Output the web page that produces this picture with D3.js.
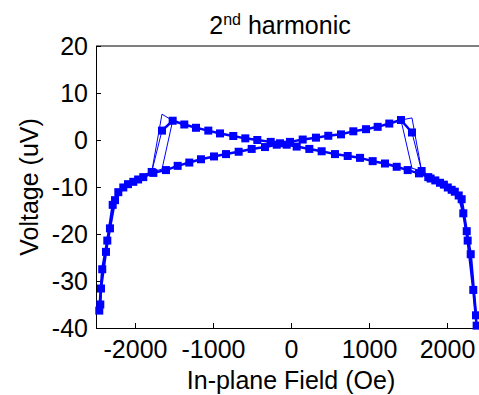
<!DOCTYPE html>
<html>
<head>
<meta charset="utf-8">
<script src="https://cdn.jsdelivr.net/npm/d3@7"></script>
<style>
  body { margin: 0; background: #fff; }
  text { font-family: Arial, "Liberation Sans", sans-serif; fill: #000; }
</style>
</head>
<body>
<div id="vis"></div>
<script>
// ---------------------------------- DATOS ---------------------------------------------------------
// bajada de campo (+ -> -): cola izquierda y rama principal (joroba izquierda + arco derecho)
const downTailField = [-2458, -2420, -2355, -2286, -2214, -2090, -1960, -1786];
const downTailVolt = [-36.3, -27.5, -21.4, -13.8, -11.1, -9.4, -8.4, -6.8];
const downMainField = [-1654, -1517, -1368, -1218, -1060, -910, -740, -586, -432, -260, -141, -55, 73, 235,
    393, 564, 727, 885, 1047, 1205, 1355, 1496, 1641, 1760, 1850, 1960, 2060, 2150, 2209, 2265, 2337, 2380];
const downMainVolt = [2.0, 4.1, 3.3, 2.6, 2.0, 1.4, 0.85, 0.35, 0.0, -0.4, -0.7, -1.0, -1.4, -1.9,
    -2.4, -3.0, -3.4, -3.8, -4.5, -5.0, -5.7, -6.4, -7.1, -7.9, -8.6, -9.5, -10.6, -11.8, -15.6, -21.4, -31.9, -39.5];

// subida de campo (- -> +): rama principal (arco izquierdo + joroba derecha) y cola derecha
const upMainField = [-2445, -2436, -2372, -2321, -2256, -2150, -2022, -1894, -1765, -1603, -1453, -1304, -1154,
    -987, -833, -671, -504, -333, -183, -13, 150, 320, 478, 641, 799, 962, 1111, 1260, 1410, 1551];
const upMainVolt = [-35.0, -31.6, -23.8, -18.8, -12.8, -10.1, -8.9, -7.9, -7.0, -6.4, -5.5, -4.8, -4.1,
    -3.5, -3.0, -2.5, -1.9, -1.5, -1.0, -0.4, 0.1, 0.5, 0.9, 1.2, 1.85, 2.3, 2.8, 3.5, 4.25, 1.6];
const upTailField = [1675, 1790, 1910, 2010, 2100, 2188, 2253, 2304, 2372];
const upTailVolt = [-6.6, -8.2, -9.1, -10.1, -11.0, -12.6, -19.4, -24.3, -37.3];

// barridos individuales en los saltos (líneas finas)
const jumpLeftField = [-1786, -1654, -1517];
const jumpLeftSweeps = [[-6.8, 5.5, 4.1], [-6.8, 2.0, 4.1], [-6.8, -6.2, 4.1]];
const jumpRightField = [1410, 1551, 1675];
const jumpRightSweeps = [[4.25, 4.7, -6.6], [4.25, 1.6, -6.6], [4.25, -6.0, -6.6]];

const xTicks = [-2000, -1000, 0, 1000, 2000];
const yTicks = [-40, -30, -20, -10, 0, 10, 20];

// ---------------------------------- VISUALIZACIÓN -------------------------------------------------
const WIDTH = 479;
const HEIGHT = 395;
const AZUL = "#0000ff";

const SVG = d3.select("#vis").append("svg")
    .attr("width", WIDTH)
    .attr("height", HEIGHT);

const escalaX = d3.scaleLinear().domain([-2500, 2500]).range([96, 486]);
const escalaY = d3.scaleLinear().domain([-40, 20]).range([328, 46]);

const zip = (xs, ys) => xs.map((x, i) => [x, ys[i]]);
const linea = d3.line().x(d => escalaX(d[0])).y(d => escalaY(d[1]));

// caja y ejes (marcas hacia dentro, como en MATLAB)
const ejeX = d3.axisBottom(escalaX).tickValues(xTicks).tickFormat(d => String(d))
    .tickSizeInner(-5).tickSizeOuter(0).tickPadding(12);
const ejeY = d3.axisLeft(escalaY).tickValues(yTicks).tickFormat(d => String(d))
    .tickSizeInner(-5).tickSizeOuter(0).tickPadding(8);

SVG.append("line")
    .attr("x1", escalaX(-2500)).attr("x2", escalaX(2500))
    .attr("y1", escalaY(20)).attr("y2", escalaY(20))
    .attr("stroke", "#000").attr("stroke-width", 1);

const gX = SVG.append("g")
    .attr("transform", `translate(0,${escalaY(-40)})`)
    .call(ejeX);
const gY = SVG.append("g")
    .attr("transform", `translate(${escalaX(-2500)},0)`)
    .call(ejeY);

[gX, gY].forEach(g => {
    g.select(".domain").attr("stroke", "#000").attr("stroke-width", 1);
    g.selectAll(".tick line").attr("stroke", "#000");
    g.selectAll(".tick text")
        .attr("font-family", "Arial, 'Liberation Sans', sans-serif")
        .attr("font-size", "25px")
        .attr("fill", "#000");
});

// líneas finas de los saltos
const finas = SVG.append("g");
jumpLeftSweeps.forEach(s => {
    finas.append("path").datum(zip(jumpLeftField, s))
        .attr("d", linea).attr("fill", "none").attr("stroke", AZUL).attr("stroke-width", 1);
});
jumpRightSweeps.forEach(s => {
    finas.append("path").datum(zip(jumpRightField, s))
        .attr("d", linea).attr("fill", "none").attr("stroke", AZUL).attr("stroke-width", 1);
});

// ramas gruesas con marcadores cuadrados
const ramas = [
    zip(downTailField, downTailVolt),
    zip(downMainField, downMainVolt),
    zip(upMainField, upMainVolt),
    zip(upTailField, upTailVolt)
];

const LADO = 8;
ramas.forEach(r => {
    SVG.append("path").datum(r)
        .attr("d", linea)
        .attr("fill", "none")
        .attr("stroke", AZUL)
        .attr("stroke-width", 2.5)
        .attr("stroke-linejoin", "round");

    SVG.append("g").selectAll("rect")
        .data(r)
        .enter()
        .append("rect")
        .attr("x", d => escalaX(d[0]) - LADO / 2)
        .attr("y", d => escalaY(d[1]) - LADO / 2)
        .attr("width", LADO)
        .attr("height", LADO)
        .attr("fill", AZUL);
});

// títulos
const titulo = SVG.append("text")
    .attr("x", 280)
    .attr("y", 34)
    .attr("text-anchor", "middle")
    .attr("font-size", "25px");
titulo.append("tspan").text("2");
titulo.append("tspan").attr("font-size", "16px").attr("dy", -9).text("nd");
titulo.append("tspan").attr("dy", 9).text(" harmonic");

SVG.append("text")
    .attr("x", 291)
    .attr("y", 389)
    .attr("text-anchor", "middle")
    .attr("font-size", "25px")
    .text("In-plane Field (Oe)");

SVG.append("text")
    .attr("transform", `translate(38,${escalaY(-10)}) rotate(-90)`)
    .attr("text-anchor", "middle")
    .attr("font-size", "25px")
    .text("Voltage (uV)");
</script>
</body>
</html>
